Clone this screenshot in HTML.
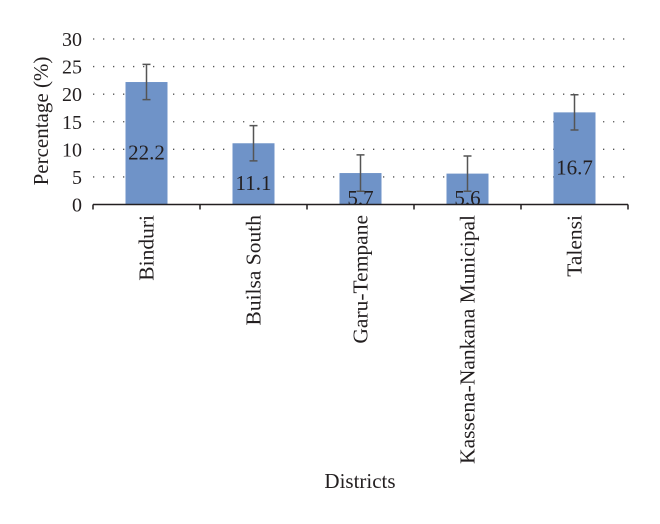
<!DOCTYPE html>
<html><head><meta charset="utf-8"><style>
body{margin:0;background:#fff;}
svg text{font-family:"Liberation Serif",serif;fill:#231f20;}
</style></head><body>
<svg id="chart" width="660" height="519">
<g id="grid"></g><g id="bars"></g><g id="axes"></g>
<text x="48" y="121" font-size="21" text-anchor="middle" transform="rotate(-90 48 121)">Percentage (%)</text>
<text x="360" y="488" font-size="21" text-anchor="middle">Districts</text>
</svg>
<script>
const categories=["Binduri","Builsa South","Garu-Tempane","Kassena-Nankana Municipal","Talensi"];
const values=[22.2,11.1,5.7,5.6,16.7];
const errors=[3.2,3.2,3.3,3.2,3.2];
const yTicks=[0,5,10,15,20,25,30];
const NS="http://www.w3.org/2000/svg";
const x0=93,x1=628,y0=204.5,yTop=39;
const bw=(x1-x0)/categories.length;
const y=v=>y0-(v/30)*(y0-yTop);
const xc=i=>x0+bw*(i+0.5);
function mk(t,a,p){const e=document.createElementNS(NS,t);for(const k in a)e.setAttribute(k,a[k]);p.appendChild(e);return e;}
const grid=document.getElementById('grid'),bars=document.getElementById('bars'),axes=document.getElementById('axes');
yTicks.forEach(t=>{
  if(t>0){const l=mk('line',{x1:x0,x2:x1,y1:y(t),y2:y(t),stroke:'#555','stroke-width':1.3,'stroke-dasharray':'1.3 8.7'},grid);
  
  }
  const tx=mk('text',{x:82,y:y(t)+7,'font-size':20,'text-anchor':'end'},axes);tx.textContent=t;
  
  
});
const ax=mk('line',{x1:x0,x2:x1,y1:y0,y2:y0,stroke:'#231f20','stroke-width':1.5},axes);


for(let i=0;i<=categories.length;i++){
  const tk=mk('line',{x1:x0+bw*i,x2:x0+bw*i,y1:y0,y2:y0+5,stroke:'#231f20','stroke-width':1.5},axes);
  
  
}
categories.forEach((c,i)=>{
  const cx=xc(i);
  const r=mk('rect',{x:cx-21,y:y(values[i]),width:42,height:y0-y(values[i]),fill:'#6f93c8'},bars);
  
  
  const e=mk('path',{d:`M${cx},${y(values[i]+errors[i])}V${y(values[i]-errors[i])}M${cx-4},${y(values[i]+errors[i])}h8M${cx-4},${y(values[i]-errors[i])}h8`,stroke:'#555','stroke-width':1.5,fill:'none'},bars);
  
  
  const vl=mk('text',{x:cx,y:y(values[i]/2)+16,'font-size':21,'text-anchor':'middle'},bars);vl.textContent=values[i];
  
  
  const cl=mk('text',{x:0,y:0,'font-size':21.5,'text-anchor':'end',transform:`translate(${cx+7},215) rotate(-90)`},axes);cl.textContent=c;
  
  
});
</script>
</body></html>
